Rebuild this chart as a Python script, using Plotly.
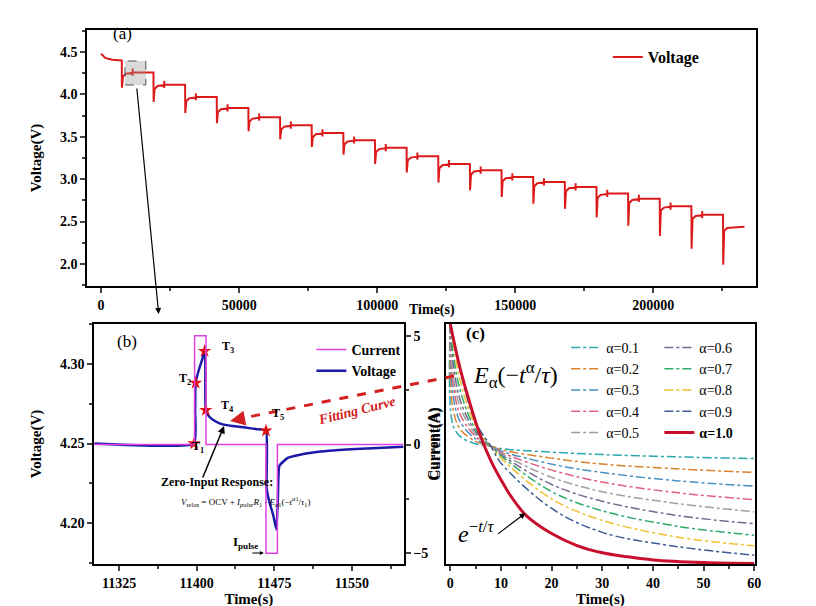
import plotly.graph_objects as go

W, H = 816, 606
def P(x, y):
    return x / W, 1 - y / H

# ---------- panel (a) data ----------
drop_times = [7500 + 11460 * k for k in range(20)]
plateau = [4.40, 4.26, 4.115, 3.97, 3.84, 3.73, 3.635, 3.545, 3.46, 3.37,
           3.27, 3.18, 3.105, 3.026, 2.967, 2.908, 2.83, 2.77, 2.68, 2.58]
minima = [4.08, 3.91, 3.78, 3.66, 3.565, 3.47, 3.38, 3.29, 3.18, 3.08,
          2.96, 2.87, 2.79, 2.71, 2.65, 2.55, 2.45, 2.33, 2.18, 1.99]
start_v = 4.48
final_v = 2.44
end_t = 233000

ta, va = [0, 1500, 4000], [start_v, 4.43, 4.41]
for k, td in enumerate(drop_times):
    nxt = plateau[k + 1] if k + 1 < len(plateau) else final_v
    ta += [td - 10, td + 5, td + 60, td + 400, td + 1500]
    va += [plateau[k], minima[k] + 0.05, minima[k], nxt - 0.05, nxt - 0.015]
    if k + 1 < len(plateau):
        tp = td + 3900
        ta += [tp, tp + 1, tp + 2, tp + 3, tp + 4]
        va += [nxt - 0.005, nxt + 0.045, nxt, nxt - 0.04, nxt]
ta += [end_t - 4000, end_t]
va += [final_v - 0.01, final_v]

# ---------- panel (b) data ----------
tb_cur = [11301, 11398, 11398, 11409, 11409, 11467, 11467, 11478, 11478, 11600]
ib_cur = [0, 0, 5, 5, 0, 0, -5, -5, 0, 0]
tb_v = [11301, 11397.5, 11398.5, 11399, 11402, 11405, 11407.6, 11408.4, 11408.8,
        11412, 11418, 11425, 11435, 11447, 11458, 11467, 11467.6, 11470, 11474,
        11477, 11478.5, 11480, 11488, 11500, 11520, 11537, 11570, 11600]
vb = [4.250, 4.250, 4.270, 4.288, 4.296, 4.302, 4.308, 4.300, 4.271,
      4.267, 4.264, 4.262, 4.261, 4.260, 4.259, 4.258, 4.222, 4.214, 4.205,
      4.196, 4.215, 4.236, 4.241, 4.243, 4.245, 4.246, 4.247, 4.248]
star_t = [11397.5, 11399, 11407.6, 11408.8, 11467]
star_v = [4.250, 4.288, 4.308, 4.271, 4.258]

# ---------- panel (c) data ----------
tc = [0, 0.5, 2, 5, 8, 10, 20, 30, 45, 60]
alpha_labels = ["α=0.1", "α=0.2", "α=0.3", "α=0.4", "α=0.5",
                "α=0.6", "α=0.7", "α=0.8", "α=0.9"]
alpha_vals = [
    [1, 0.58, 0.53, 0.50, 0.49, 0.480, 0.465, 0.455, 0.445, 0.438],
    [1, 0.65, 0.56, 0.51, 0.49, 0.475, 0.440, 0.415, 0.395, 0.380],
    [1, 0.71, 0.59, 0.52, 0.49, 0.470, 0.415, 0.380, 0.345, 0.323],
    [1, 0.76, 0.62, 0.53, 0.49, 0.465, 0.390, 0.340, 0.295, 0.267],
    [1, 0.80, 0.65, 0.54, 0.49, 0.460, 0.360, 0.300, 0.250, 0.216],
    [1, 0.85, 0.68, 0.55, 0.49, 0.455, 0.330, 0.260, 0.200, 0.166],
    [1, 0.89, 0.72, 0.56, 0.49, 0.450, 0.300, 0.220, 0.155, 0.118],
    [1, 0.93, 0.76, 0.575, 0.49, 0.440, 0.270, 0.180, 0.110, 0.074],
    [1, 0.96, 0.80, 0.59, 0.49, 0.420, 0.230, 0.130, 0.070, 0.035],
]
alpha_colors = ["#2aa6b0", "#d9822b", "#4a90c0", "#e0607e", "#a0a0a0",
                "#76688f", "#2eaa6a", "#f0c030", "#3b5b92"]
t_red = [0, 1, 2, 4, 6, 8, 10, 12, 15, 20, 25, 30, 35, 40, 50, 60]
v_red = [1.0, 0.90, 0.81, 0.66, 0.53, 0.43, 0.35, 0.28, 0.20, 0.125,
         0.075, 0.045, 0.028, 0.015, 0.004, 0.0]

FONT = "Liberation Serif"
fig = go.Figure()

fig.add_trace(go.Scatter(x=ta, y=va, mode="lines", name="<b>Voltage</b>",
                         line=dict(color="#dd1a1a", width=2), xaxis="x", yaxis="y",
                         legend="legend"))
fig.add_trace(go.Scatter(x=tb_cur, y=ib_cur, mode="lines", name="<b>Current</b>",
                         line=dict(color="#e040e0", width=1.5), xaxis="x2", yaxis="y3",
                         legend="legend2"))
fig.add_trace(go.Scatter(x=tb_v, y=vb, mode="lines", name="<b>Voltage</b>",
                         line=dict(color="#1a1aa8", width=2.5, shape="spline", smoothing=0.4),
                         xaxis="x2", yaxis="y2", legend="legend2"))
fig.add_trace(go.Scatter(x=star_t, y=star_v, mode="markers", showlegend=False,
                         marker=dict(symbol="star", size=10, color="#e01010"),
                         xaxis="x2", yaxis="y2"))
for i, (lab, vals, col) in enumerate(zip(alpha_labels, alpha_vals, alpha_colors)):
    fig.add_trace(go.Scatter(x=tc, y=vals, mode="lines", name=lab,
                             line=dict(color=col, width=1.5, dash="dashdot", shape="spline"),
                             xaxis="x3", yaxis="y4",
                             legend="legend3" if i < 5 else "legend4"))
fig.add_trace(go.Scatter(x=t_red, y=v_red, mode="lines", name="<b>α=1.0</b>",
                         line=dict(color="#c8102e", width=3, shape="spline"),
                         xaxis="x3", yaxis="y4", legend="legend4"))

ax_common = dict(showline=True, linewidth=2, linecolor="black", mirror=True,
                 ticks="outside", tickwidth=1.5, ticklen=5, showgrid=False,
                 zeroline=False, tickfont=dict(family=FONT, size=14, color="black"),
                 minor=dict(ticks="outside", ticklen=3, tickwidth=1.2))
tf = dict(family=FONT, size=15, color="black")

xa, ya = P(80, 278), P(754, 22)
xb0, yb0 = P(87, 556); xb1, yb1 = P(399, 316)
xc0, _ = P(442, 556); xc1, _ = P(753, 316)

fig.update_layout(
    width=W, height=H, margin=dict(l=0, r=0, t=0, b=0),
    plot_bgcolor="white", paper_bgcolor="white",
    font=dict(family=FONT, color="black"),
    xaxis=dict(ax_common, domain=[xa[0], ya[0]], anchor="y", range=[-5000, 237000],
               tickvals=[0, 50000, 100000, 150000, 200000],
               ticktext=["<b>0</b>", "<b>50000</b>", "<b>100000</b>", "<b>150000</b>", "<b>200000</b>"],
               minor=dict(ticks="outside", ticklen=3, dtick=25000, tick0=0)),
    yaxis=dict(ax_common, domain=[xa[1], ya[1]], anchor="x", range=[1.74, 4.76],
               tickvals=[2.0, 2.5, 3.0, 3.5, 4.0, 4.5],
               ticktext=["<b>2.0</b>", "<b>2.5</b>", "<b>3.0</b>", "<b>3.5</b>", "<b>4.0</b>", "<b>4.5</b>"],
               minor=dict(ticks="outside", ticklen=3, dtick=0.25),
               title=dict(text="<b>Voltage(V)</b>", font=tf)),
    xaxis2=dict(ax_common, domain=[xb0, xb1], anchor="y2", range=[11301, 11600],
                tickvals=[11325, 11400, 11475, 11550],
                ticktext=["<b>11325</b>", "<b>11400</b>", "<b>11475</b>", "<b>11550</b>"],
                minor=dict(ticks="outside", ticklen=3, dtick=37.5, tick0=11325),
                title=dict(text="<b>Time(s)</b>", font=tf, standoff=0)),
    yaxis2=dict(ax_common, domain=[yb0, yb1], anchor="x2", range=[4.1744, 4.325],
                tickvals=[4.20, 4.25, 4.30], ticktext=["<b>4.20</b>", "<b>4.25</b>", "<b>4.30</b>"],
                minor=dict(ticks="outside", ticklen=3, dtick=0.025),
                title=dict(text="<b>Voltage(V)</b>", font=tf)),
    yaxis3=dict(ax_common, overlaying="y2", side="right", anchor="x2", range=[-5.49, 5.54],
                mirror=False, tickvals=[-5, 0, 5], ticktext=["<b>−5</b>", "<b>0</b>", "<b>5</b>"],
                minor=dict(ticks="outside", ticklen=3, dtick=2.5),
                title=dict(text="<b>Current(A)</b>", font=tf, standoff=0)),
    xaxis3=dict(ax_common, domain=[xc0, xc1], anchor="y4", range=[-0.8, 60.05],
                tickvals=[0, 10, 20, 30, 40, 50, 60],
                ticktext=["<b>%d</b>" % v for v in [0, 10, 20, 30, 40, 50, 60]],
                minor=dict(ticks="outside", ticklen=3, dtick=5),
                title=dict(text="<b>Time(s)</b>", font=tf, standoff=0)),
    yaxis4=dict(ax_common, domain=[yb0, yb1], anchor="x3", range=[-0.002, 1.0],
                showticklabels=False, ticks="", minor=dict(ticks=""),
                title=dict(text="<b>Current(A)</b>", font=tf, standoff=0)),
    legend=dict(x=P(605, 0)[0], y=P(0, 32)[1], xanchor="left", yanchor="top",
                bgcolor="rgba(0,0,0,0)", font=dict(family=FONT, size=16)),
    legend2=dict(x=P(306, 0)[0], y=P(0, 326)[1], xanchor="left", yanchor="top",
                 bgcolor="rgba(0,0,0,0)", font=dict(family=FONT, size=14), tracegroupgap=0),
    legend3=dict(x=P(563, 0)[0], y=P(0, 324)[1], xanchor="left", yanchor="top",
                 bgcolor="rgba(0,0,0,0)", font=dict(family=FONT, size=14), tracegroupgap=0),
    legend4=dict(x=P(657, 0)[0], y=P(0, 324)[1], xanchor="left", yanchor="top",
                 bgcolor="rgba(0,0,0,0)", font=dict(family=FONT, size=14), tracegroupgap=0),
)

ann = []
def txt(x, y, s, size=13, color="black", **kw):
    px, py = P(x, y)
    ann.append(dict(x=px, y=py, xref="paper", yref="paper", text=s, showarrow=False,
                    font=dict(family=FONT, size=size, color=color), **kw))
def arrow(x1, y1, x0, y0, color="black", width=1.5, head=2, size=1):
    px, py = P(x1, y1)
    ann.append(dict(x=px, y=py, xref="paper", yref="paper", ax=x0 - x1, ay=y0 - y1,
                    showarrow=True, arrowhead=head, arrowsize=size, arrowwidth=width,
                    arrowcolor=color, text=""))

txt(104, 14, "(a)", 17)
txt(108, 333, "(b)", 17)
txt(472, 325, "<b>(c)</b>", 17)
txt(428, 302, "<b>Time(s)</b>", 14)
txt(184, 449, "<b>T<sub>1</sub></b>", 12)
txt(170, 371, "<b>T<sub>2</sub></b>", 12)
txt(214, 339, "<b>T<sub>3</sub></b>", 12)
txt(213, 398, "<b>T<sub>4</sub></b>", 12)
txt(272, 416, "<b>T<sub>5</sub></b>", 12)
txt(152, 483, "<b>Zero-Input Response:</b>", 12)
txt(172, 502, "<i>V</i><sub>relax</sub> = OCV + <i>I<sub>pulse</sub>R</i><sub>1</sub> · <i>E</i><sub>α1</sub>(−<i>t</i><sup>α1</sup>/<i>τ</i><sub>1</sub>)", 9)
txt(225, 545, "<b>I<sub>pulse</sub></b>", 13)
arrow(258, 545, 245, 545, width=1, size=0.8)
txt(352, 402, "<b><i>Fitting Curve</i></b>", 14, "#d42020", textangle=-14)
arrow(218, 418, 196, 471, width=1.5)
arrow(152, 306, 130, 79, width=1.2)
arrow(224, 413, 240, 410, color="#d42020", width=3, size=1)
txt(512, 367, "<i>E</i><sub>α</sub>(−<i>t</i><sup>α</sup>/<i>τ</i>)", 24)
txt(472, 541, "<i>e</i><sup>−<i>t</i>/<i>τ</i></sup>", 24)
arrow(522, 505, 493, 527, width=1.2)
fig.update_layout(annotations=ann)

x0, y0 = P(118, 77); x1, y1 = P(139, 53)
fx0, fy0 = P(450, 368); fx1, fy1 = P(232, 411)
fig.update_layout(shapes=[
    dict(type="rect", xref="paper", yref="paper", x0=x0, y0=y0, x1=x1, y1=y1,
         line=dict(color="#555", width=1, dash="dash"), fillcolor="rgba(150,150,150,0.35)"),
    dict(type="line", xref="paper", yref="paper", x0=fx0, y0=fy0, x1=fx1, y1=fy1,
         line=dict(color="#d42020", width=3, dash="dash")),
])

fig.write_html("out.html")
